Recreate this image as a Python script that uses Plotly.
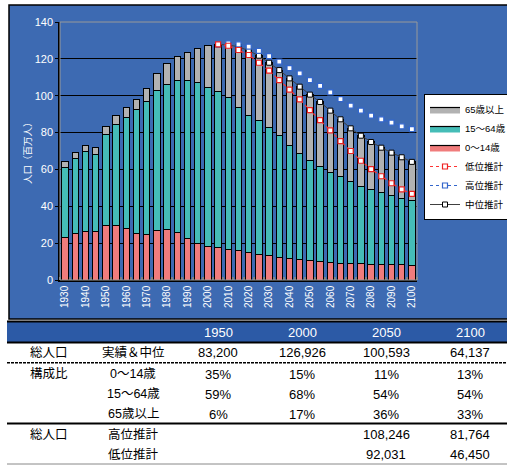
import plotly.graph_objects as go

W, H = 507, 465

# ---------------- data ----------------
years = list(range(1930, 2101, 5))
age_0_14 = [23.3, 25.3, 26.4, 26.4, 29.5, 29.7, 28.0, 25.1, 24.8, 27.1, 27.5, 26.0, 22.4,
            19.9, 18.3, 17.5, 16.8, 16.1, 15.0, 13.9, 13.2, 12.3, 11.8, 11.2, 10.7, 10.1,
            9.6, 9.2, 9.0, 8.8, 8.5, 8.5, 8.5, 8.3, 8.1]
age_15_64 = [38.0, 40.7, 43.2, 41.8, 49.5, 54.8, 60.1, 67.3, 71.8, 76.0, 78.8, 82.5, 85.9,
             87.4, 86.4, 84.9, 82.0, 77.4, 74.5, 72.6, 69.6, 66.0, 61.1, 57.3, 53.9, 51.6,
             49.0, 46.9, 44.4, 42.2, 40.5, 38.9, 37.1, 36.0, 34.9]
age_65 = [3.1, 3.3, 3.3, 3.8, 4.2, 4.7, 5.4, 5.8, 7.2, 9.0, 11.1, 12.9, 15.2,
          18.2, 22.3, 25.5, 28.7, 33.1, 34.9, 35.2, 35.1, 35.6, 36.5, 36.4, 36.0, 34.9,
          33.3, 31.1, 28.9, 27.3, 25.9, 24.4, 23.5, 22.3, 21.1]

proj_years = list(range(2005, 2101, 5))
mid_proj = [127.9, 127.5, 126.6, 124.4, 121.7, 117.9, 113.9, 109.4, 104.9, 100.6,
            96.6, 91.9, 87.2, 82.3, 78.3, 74.9, 71.8, 69.1, 66.6, 64.1]
high_proj = [127.9, 128.4, 127.9, 126.6, 124.3, 121.5, 118.5, 115.0, 112.1, 108.5,
             105.3, 101.8, 98.2, 94.6, 91.9, 89.2, 87.2, 85.4, 83.4, 81.9]
low_proj = [127.9, 127.1, 124.8, 122.1, 117.9, 113.6, 108.5, 103.3, 98.0, 92.2,
            86.8, 81.2, 75.4, 70.0, 64.7, 60.2, 56.3, 52.5, 49.2, 46.7]

y_ticks = [0, 20, 40, 60, 80, 100, 120, 140]
x_tick_years = list(range(1930, 2101, 10))

legend_names = ["0～14歳", "15～64歳", "65歳以上", "低位推計", "高位推計", "中位推計"]
y_title = "人口（百万人）"

table_years = ["1950", "2000", "2050", "2100"]
row_labels_1 = ["総人口", "構成比", "", "", "総人口", ""]
row_labels_2 = ["実績＆中位", "0～14歳", "15～64歳", "65歳以上", "高位推計", "低位推計"]
tbl_total = ["83,200", "126,926", "100,593", "64,137"]
tbl_0_14 = ["35%", "15%", "11%", "13%"]
tbl_15_64 = ["59%", "68%", "54%", "54%"]
tbl_65 = ["6%", "17%", "36%", "33%"]
tbl_high = ["", "", "108,246", "81,764"]
tbl_low = ["", "", "92,031", "46,450"]
table_rows = [tbl_total, tbl_0_14, tbl_15_64, tbl_65, tbl_high, tbl_low]

# ---------------- styles ----------------
FONT = "Liberation Sans, Arial, Noto Sans CJK JP, sans-serif"
BLUE_BG = "#3D6AB2"
BAND = "#2C5AA6"
C_PINK = "#F07C7C"
C_TEAL = "#45BDB7"
C_GRAY = "#B2B2B2"


def py(y):
    return 1 - y / H


def px(x):
    return x / W


fig = go.Figure()
bar_specs = [(age_0_14, legend_names[0], C_PINK, 3),
             (age_15_64, legend_names[1], C_TEAL, 2),
             (age_65, legend_names[2], C_GRAY, 1)]
for vals, name, col, rank in bar_specs:
    fig.add_trace(go.Bar(x=years, y=vals, name=name, showlegend=False, legendgroup=name,
                         marker=dict(color=col, line=dict(color="black", width=1))))
    # legend-only swatch (wide filled rectangle like the original)
    fig.add_trace(go.Scatter(x=[None], y=[None], name=name, legendgroup=name,
                             legendrank=rank, mode="lines", fill="toself",
                             fillcolor=col, line=dict(color="black", width=1.2)))

fig.add_trace(go.Scatter(x=proj_years, y=mid_proj, name=legend_names[5], legendrank=6,
                         mode="lines+markers",
                         line=dict(color="#404040", width=1),
                         marker=dict(symbol="square", size=5, color="white",
                                     line=dict(color="black", width=1))))
fig.add_trace(go.Scatter(x=proj_years, y=high_proj, name=legend_names[4], legendrank=5,
                         mode="lines+markers",
                         line=dict(color="#3366CC", width=1.2, dash="dot"),
                         marker=dict(symbol="square", size=5, color="white",
                                     line=dict(color="#3366CC", width=1.2))))
fig.add_trace(go.Scatter(x=proj_years, y=low_proj, name=legend_names[3], legendrank=4,
                         mode="lines+markers",
                         line=dict(color="#FF3333", width=1.2, dash="dot"),
                         marker=dict(symbol="square", size=5, color="white",
                                     line=dict(color="#EE2222", width=1.2))))

shapes = []
shapes.append(dict(type="rect", xref="paper", yref="paper", layer="below",
                   x0=px(9), x1=px(510), y0=py(319), y1=py(5),
                   fillcolor=BLUE_BG, line=dict(color="black", width=1.5)))
shapes.append(dict(type="rect", xref="paper", yref="paper", layer="below",
                   x0=px(7), x1=px(510), y0=py(342), y1=py(322),
                   fillcolor=BAND, line=dict(width=0)))
shapes.append(dict(type="line", xref="paper", yref="paper", x0=px(7), x1=px(510),
                   y0=py(321.5), y1=py(321.5), line=dict(color="black", width=2)))
shapes.append(dict(type="line", xref="paper", yref="paper", x0=px(7), x1=px(510),
                   y0=py(342.5), y1=py(342.5), line=dict(color="black", width=2)))
shapes.append(dict(type="line", xref="paper", yref="paper", x0=px(7), x1=px(510),
                   y0=py(362.7), y1=py(362.7), line=dict(color="black", width=1.5, dash="3px,1px")))
shapes.append(dict(type="line", xref="paper", yref="paper", x0=px(7), x1=px(510),
                   y0=py(423.5), y1=py(423.5), line=dict(color="black", width=2)))
shapes.append(dict(type="line", xref="paper", yref="paper", x0=px(7), x1=px(510),
                   y0=py(464), y1=py(464), line=dict(color="#888888", width=1)))
shapes.append(dict(type="rect", xref="paper", yref="paper", x0=px(60), x1=px(417),
                   y0=py(280), y1=py(22), line=dict(color="#999999", width=1), layer="above"))


def ann(x, y, text, color="black", size=13, angle=0):
    return dict(x=px(x), y=py(y), xref="paper", yref="paper", text=text,
                xanchor="center", yanchor="middle", textangle=angle,
                showarrow=False, font=dict(color=color, size=size, family=FONT))


annotations = []
col_x = [218, 302, 386, 470]
for cx, t in zip(col_x, table_years):
    annotations.append(ann(cx, 332, t, color="white", size=13))
row_y = [352.5, 374, 394, 414, 434, 454]
for ry, l1, l2, vals in zip(row_y, row_labels_1, row_labels_2, table_rows):
    if l1:
        annotations.append(ann(49, ry, l1, size=12.5))
    annotations.append(ann(133, ry, l2, size=12.5))
    for cx, v in zip(col_x, vals):
        if v:
            annotations.append(ann(cx, ry, v, size=13))
annotations.append(ann(27, 151, y_title, color="white", size=9.5, angle=-90))

fig.update_layout(
    width=W, height=H,
    margin=dict(l=0, r=0, t=0, b=0, pad=0, autoexpand=False),
    paper_bgcolor="white",
    plot_bgcolor="white",
    barmode="stack",
    bargap=0.38,
    showlegend=True,
    font=dict(family=FONT),
    legend=dict(x=px(424), y=py(94), xanchor="left", yanchor="top",
                bgcolor="white", bordercolor="black", borderwidth=1,
                font=dict(size=9.5, color="black", family=FONT),
                traceorder="normal", itemwidth=30, tracegroupgap=0),
    xaxis=dict(domain=[px(60), px(417)], range=[1927.5, 2102.5],
               tickmode="array", tickvals=x_tick_years,
               ticktext=[str(v) for v in x_tick_years],
               tickangle=-90, tickfont=dict(color="white", size=10),
               ticks="", showgrid=False, zeroline=False,
               showline=True, linecolor="black", linewidth=1.5,
               minor=dict(tick0=1927.5, dtick=5, ticks="inside", ticklen=3,
                          tickcolor="#808080", tickwidth=2, showgrid=False)),
    yaxis=dict(domain=[py(280), py(22)], range=[0, 140],
               tickmode="array", tickvals=y_ticks,
               tickfont=dict(color="white", size=11),
               ticks="outside", ticklen=3, tickcolor="black",
               showgrid=True, gridcolor="black", gridwidth=1,
               zeroline=False, showline=True, linecolor="black", linewidth=1.5),
    shapes=shapes,
    annotations=annotations,
)

fig.write_html("out.html",
               config={"displayModeBar": False},
               post_script="document.body.style.margin='0px';document.body.style.overflow='hidden';")
